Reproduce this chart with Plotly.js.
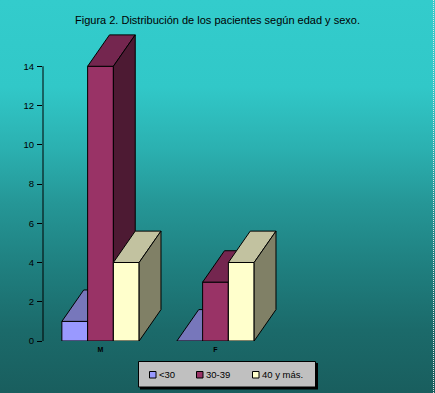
<!DOCTYPE html>
<html>
<head>
<meta charset="utf-8">
<script src="https://cdn.plot.ly/plotly-3.0.1.min.js"></script>
<style>
  html, body { margin: 0; padding: 0; }
  #wrap {
    width: 435px; height: 393px; position: relative;
    background: linear-gradient(to bottom, #33CCCC 0%, #31C8C8 22%, #2BB0B0 38%, #259696 52%, #1F7F7F 68%, #1B6A6A 84%, #195E5E 100%);
  }
  #edge { position: absolute; left: 433px; top: 0; width: 0; height: 393px; border-left: 1px dotted #E0E0E0; }
  #chart { width: 435px; height: 393px; }
</style>
</head>
<body>
<div id="wrap"><div id="chart"></div><div id="edge"></div></div>
<script>
// ---- data ----
const categories = ['M', 'F'];
const seriesNames = ['<30', '30-39', '40 y más.'];
const valuesUnder30 = [1, 0];
const values30to39 = [14, 3];
const values40plus = [4, 4];
const yTickVals = [0, 2, 4, 6, 8, 10, 12, 14];
const yTickText = ['0', '2', '4', '6', '8', '10', '12', '14'];

// ---- styles ----
const seriesValues = [valuesUnder30, values30to39, values40plus];
const frontColors = ['#9999FF', '#993366', '#FFFFCC'];
const topColors   = ['#7777BB', '#74264F', '#C2C2A0'];
const sideColors  = ['#5C5C99', '#4D1A33', '#808066'];

const BW = 0.224;   // bar width (x units)
const DX = 0.19;    // depth offset x
const DY = 1.6;     // depth offset y

// plot area in pixels (for legend placement in paper coords)
const PL = 43, PR = 420, PT = 29, PB = 341;
const px2x = p => (p - PL) / (PR - PL);
const px2y = p => (PB - p) / (PB - PT);

const traces = [];
function poly(xs, ys, color) {
  traces.push({
    type: 'scatter', mode: 'lines', x: xs, y: ys, fill: 'toself',
    fillcolor: color, line: {color: '#000000', width: 1},
    hoverinfo: 'skip', showlegend: false
  });
}
categories.forEach((cat, i) => {
  const left0 = i - 1.5 * BW;
  seriesValues.forEach((vals, s) => {
    const h = vals[i];
    const L = left0 + s * BW, R = L + BW;
    if (h > 0) poly([L, R, R, L, L], [0, 0, h, h, 0], frontColors[s]);
    poly([L, R, R + DX, L + DX, L], [h, h, h + DY, h + DY, h], topColors[s]);
    if (h > 0) poly([R, R + DX, R + DX, R, R], [0, DY, h + DY, h, 0], sideColors[s]);
  });
});

// legend box (drawn as shapes + text)
const shapes = [
  {type: 'line', xref: 'paper', yref: 'y', x0: 0, x1: 0, y0: 0, y1: 14, line: {color: '#000000', width: 1}},
  {type: 'rect', xref: 'paper', yref: 'paper', layer: 'above',
   x0: px2x(140), x1: px2x(318), y0: px2y(363), y1: px2y(389.5), fillcolor: '#000000', line: {width: 0}},
  {type: 'rect', xref: 'paper', yref: 'paper', layer: 'above',
   x0: px2x(138.5), x1: px2x(315.5), y0: px2y(361.5), y1: px2y(387), fillcolor: '#C0C0C0', line: {color: '#000000', width: 1}}
];
const annotations = [];
const legendSym = [149.5, 196.5, 252.5];
seriesNames.forEach((name, s) => {
  shapes.push({type: 'rect', xref: 'paper', yref: 'paper', layer: 'above',
    x0: px2x(legendSym[s]), x1: px2x(legendSym[s] + 6.5), y0: px2y(371.5), y1: px2y(378),
    fillcolor: frontColors[s], line: {color: '#000000', width: 1}});
  annotations.push({xref: 'paper', yref: 'paper', x: px2x(legendSym[s] + 7.5), y: px2y(374.5),
    xanchor: 'left', yanchor: 'middle', showarrow: false, text: name,
    font: {size: 9.5, color: '#000000'}});
});

const layout = {
  width: 435, height: 393,
  margin: {l: PL, r: 435 - PR, t: PT, b: 393 - PB},
  paper_bgcolor: 'rgba(0,0,0,0)', plot_bgcolor: 'rgba(0,0,0,0)',
  font: {family: 'Liberation Sans, Arial, sans-serif', color: '#000000'},
  showlegend: false,
  title: {
    text: 'Figura 2. Distribución de los pacientes según edad y sexo.',
    font: {size: 11, color: '#000000', family: 'Liberation Sans, Arial, sans-serif'},
    x: 0.5, xanchor: 'center', yref: 'container', y: 1 - 20 / 393, yanchor: 'middle'
  },
  xaxis: {
    range: [-0.5, -0.5 + (PR - PL) / 115], showgrid: false, zeroline: false, showline: false,
    ticks: '', tickvals: [0, 1], ticktext: categories, ticklabelstandoff: 3,
    tickfont: {size: 7, weight: 'bold'}, fixedrange: true, automargin: false
  },
  yaxis: {
    range: [0, 15.9], showgrid: false, zeroline: false, showline: false,
    ticks: 'outside', ticklen: 5, tickcolor: '#000000', tickwidth: 1, ticklabelstandoff: 1,
    tickvals: yTickVals, ticktext: yTickText, tickfont: {size: 9.5}, fixedrange: true, automargin: false
  },
  shapes: shapes,
  annotations: annotations
};

Plotly.newPlot('chart', traces, layout, {displayModeBar: false, staticPlot: true});
</script>
</body>
</html>
